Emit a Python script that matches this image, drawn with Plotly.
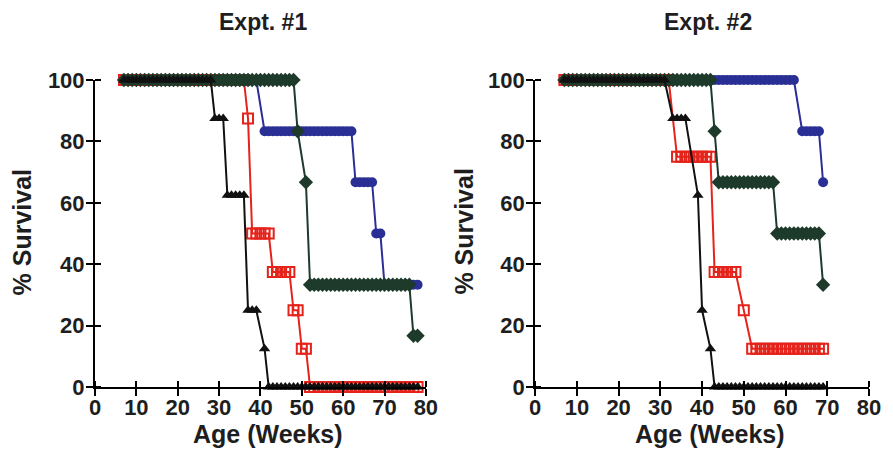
import plotly.graph_objects as go

# ---------------- data ----------------
weeks_1 = list(range(7, 79))   # Expt. #1 observation weeks
weeks_2 = list(range(7, 70))   # Expt. #2 observation weeks
N = None

e1_black = [100, 100, 100, 100, 100, 100, 100, 100, 100, 100,
            100, 100, 100, 100, 100, 100, 100, 100, 100, 100,
            100, 100, 87.5, 87.5, 87.5, 62.5, 62.5, 62.5, 62.5, 62.5,
            25, 25, 25, N, 12.5, 0, 0, 0, 0, 0,
            0, 0, 0, 0, 0, 0, 0, 0, 0, 0,
            0, 0, 0, 0, 0, 0, 0, 0, 0, 0,
            0, 0, 0, 0, 0, 0, 0, 0, 0, 0,
            0, 0]
e1_red = [100, 100, 100, 100, 100, 100, 100, 100, 100, 100,
          100, 100, 100, 100, 100, 100, 100, 100, 100, 100,
          100, 100, 100, 100, 100, 100, 100, 100, 100, 100,
          87.5, 50, 50, 50, 50, 50, 37.5, 37.5, 37.5, 37.5,
          37.5, 25, 25, 12.5, 12.5, 0, 0, 0, 0, 0,
          0, 0, 0, 0, 0, 0, 0, 0, 0, 0,
          0, 0, 0, 0, 0, 0, 0, 0, 0, 0,
          0, 0]
e1_blue = [100, 100, 100, 100, 100, 100, 100, 100, 100, 100,
           100, 100, 100, 100, 100, 100, 100, 100, 100, 100,
           100, 100, 100, 100, 100, 100, 100, 100, 100, 100,
           100, 100, 100, N, 83.3, 83.3, 83.3, 83.3, 83.3, 83.3,
           83.3, 83.3, 83.3, 83.3, 83.3, 83.3, 83.3, 83.3, 83.3, 83.3,
           83.3, 83.3, 83.3, 83.3, 83.3, 83.3, 66.7, 66.7, 66.7, 66.7,
           66.7, 50, 50, 33.3, 33.3, 33.3, 33.3, 33.3, 33.3, 33.3,
           33.3, 33.3]
e1_green = [100, 100, 100, 100, 100, 100, 100, 100, 100, 100,
            100, 100, 100, 100, 100, 100, 100, 100, 100, 100,
            100, 100, 100, 100, 100, 100, 100, 100, 100, 100,
            100, 100, 100, 100, 100, 100, 100, 100, 100, 100,
            100, 100, 83.3, N, 66.7, 33.3, 33.3, 33.3, 33.3, 33.3,
            33.3, 33.3, 33.3, 33.3, 33.3, 33.3, 33.3, 33.3, 33.3, 33.3,
            33.3, 33.3, 33.3, 33.3, 33.3, 33.3, 33.3, 33.3, 33.3, 33.3,
            16.7, 16.7]

e2_black = [100, 100, 100, 100, 100, 100, 100, 100, 100, 100,
            100, 100, 100, 100, 100, 100, 100, 100, 100, 100,
            100, 100, 100, 100, 100, N, 87.5, 87.5, 87.5, 87.5,
            N, N, 62.5, 25, N, 12.5, 0, 0, 0, 0,
            0, 0, 0, 0, 0, 0, 0, 0, 0, 0,
            0, 0, 0, 0, 0, 0, 0, 0, 0, 0,
            0, 0, 0]
e2_red = [100, 100, 100, 100, 100, 100, 100, 100, 100, 100,
          100, 100, 100, 100, 100, 100, 100, 100, 100, 100,
          100, 100, 100, 100, 100, 100, N, 75, 75, 75,
          75, 75, 75, 75, 75, 75, 37.5, 37.5, 37.5, 37.5,
          37.5, 37.5, N, 25, N, 12.5, 12.5, 12.5, 12.5, 12.5,
          12.5, 12.5, 12.5, 12.5, 12.5, 12.5, 12.5, 12.5, 12.5, 12.5,
          12.5, 12.5, 12.5]
e2_blue = [100, 100, 100, 100, 100, 100, 100, 100, 100, 100,
           100, 100, 100, 100, 100, 100, 100, 100, 100, 100,
           100, 100, 100, 100, 100, 100, 100, 100, 100, 100,
           100, 100, 100, 100, 100, 100, 100, 100, 100, 100,
           100, 100, 100, 100, 100, 100, 100, 100, 100, 100,
           100, 100, 100, 100, 100, 100, N, 83.3, 83.3, 83.3,
           83.3, 83.3, 66.7]
e2_green = [100, 100, 100, 100, 100, 100, 100, 100, 100, 100,
            100, 100, 100, 100, 100, 100, 100, 100, 100, 100,
            100, 100, 100, 100, 100, 100, 100, 100, 100, 100,
            100, 100, 100, 100, 100, 100, 83.3, 66.7, 66.7, 66.7,
            66.7, 66.7, 66.7, 66.7, 66.7, 66.7, 66.7, 66.7, 66.7, 66.7,
            66.7, 50, 50, 50, 50, 50, 50, 50, 50, 50,
            50, 50, 33.3]

x_ticks = [0, 10, 20, 30, 40, 50, 60, 70, 80]
y_ticks = [0, 20, 40, 60, 80, 100]
panel_titles = ["Expt. #1", "Expt. #2"]
x_title = "Age (Weeks)"
y_title = "% Survival"

# ---------------- styles ----------------
FONT = "Liberation Sans, Arial, Helvetica, sans-serif"
TXT = "#1e1e1e"
BLUE = "#2a2f95"
RED = "#e5231b"
GREEN = "#1d3a2b"
BLACK = "#111111"

styles = {
    "blue": dict(color=BLUE, symbol="circle", size=10, open=False),
    "red": dict(color=RED, symbol="square-open", size=10, open=True),
    "green": dict(color=GREEN, symbol="diamond", size=11, open=False),
    "black": dict(color=BLACK, symbol="triangle-up", size=10, open=False),
}

fig = go.Figure()

def add(xs, ys, key, xa, ya):
    s = styles[key]
    marker = dict(symbol=s["symbol"], size=s["size"], color=s["color"])
    if s["open"]:
        marker["line"] = dict(color=s["color"], width=2)
    else:
        marker["line"] = dict(width=0)
    fig.add_trace(go.Scatter(
        x=xs, y=ys, mode="lines+markers", connectgaps=True,
        line=dict(color=s["color"], width=2), marker=marker,
        cliponaxis=False, showlegend=False, hoverinfo="x+y",
        xaxis=xa, yaxis=ya))

for xs, series, xa, ya in [
    (weeks_1, dict(blue=e1_blue, red=e1_red, green=e1_green, black=e1_black), "x", "y"),
    (weeks_2, dict(blue=e2_blue, red=e2_red, green=e2_green, black=e2_black), "x2", "y2"),
]:
    for key in ["blue", "red", "green", "black"]:
        add(xs, series[key], key, xa, ya)

tickfont = dict(family=FONT, size=22, color=TXT, weight="bold")

def xax(domain, anchor):
    return dict(domain=domain, anchor=anchor, range=[0, 80], tickvals=x_ticks,
                ticks="outside", ticklen=7, tickwidth=2, tickcolor="black",
                ticklabelstandoff=-7,
                minor=dict(ticks="inside", ticklen=6, tickwidth=2, tickcolor="black",
                           tick0=0.001, dtick=10),
                showline=True, linewidth=2, linecolor="black",
                showgrid=False, zeroline=False, tickfont=tickfont, fixedrange=True)

def yax(anchor):
    return dict(domain=[0, 1], anchor=anchor, range=[0, 100], tickvals=y_ticks,
                ticks="outside", ticklen=7, tickwidth=2, tickcolor="black",
                ticklabelstandoff=-3,
                minor=dict(ticks="inside", ticklen=6, tickwidth=2, tickcolor="black",
                           tick0=0.01, dtick=20),
                showline=True, linewidth=2, linecolor="black",
                showgrid=False, zeroline=False, tickfont=tickfont, fixedrange=True)

# the page body adds an 8px offset; lay the figure out in window pixels
OFF = 8
W, H = 893 - OFF, 452 - OFF
ml = 95 - OFF
mt = 80 - OFF
mr = W - (874 - OFF)
mb = H - (387 - OFF)
pw = W - ml - mr
ph = H - mt - mb

def px_x(px):
    return (px - OFF - ml) / pw

def px_y(py):
    return (H - mb - (py - OFF)) / ph

left_dom = [0, px_x(428)]
right_dom = [px_x(538), 1]

annots = []
for txt, cx in zip(panel_titles, [264, 712]):
    annots.append(dict(text=txt, xref="paper", yref="paper", x=px_x(cx), y=px_y(22),
                       xanchor="center", yanchor="middle", showarrow=False,
                       font=dict(family=FONT, size=23, color=TXT, weight="bold")))
for cx in [269, 714]:
    annots.append(dict(text=x_title, xref="paper", yref="paper", x=px_x(cx), y=px_y(434),
                       xanchor="center", yanchor="middle", showarrow=False,
                       font=dict(family=FONT, size=25, color=TXT, weight="bold")))
for cx in [22, 466]:
    annots.append(dict(text=y_title, xref="paper", yref="paper", x=px_x(cx), y=px_y(232),
                       xanchor="center", yanchor="middle", showarrow=False, textangle=-90,
                       font=dict(family=FONT, size=25, color=TXT, weight="bold")))

fig.update_layout(
    width=W, height=H, autosize=False,
    margin=dict(l=ml, r=mr, t=mt, b=mb, pad=0),
    paper_bgcolor="white", plot_bgcolor="white",
    xaxis=xax(left_dom, "y"), yaxis=yax("x"),
    xaxis2=xax(right_dom, "y2"), yaxis2=yax("x2"),
    annotations=annots, showlegend=False,
)

fig.write_html("out.html", config=dict(displayModeBar=False))
